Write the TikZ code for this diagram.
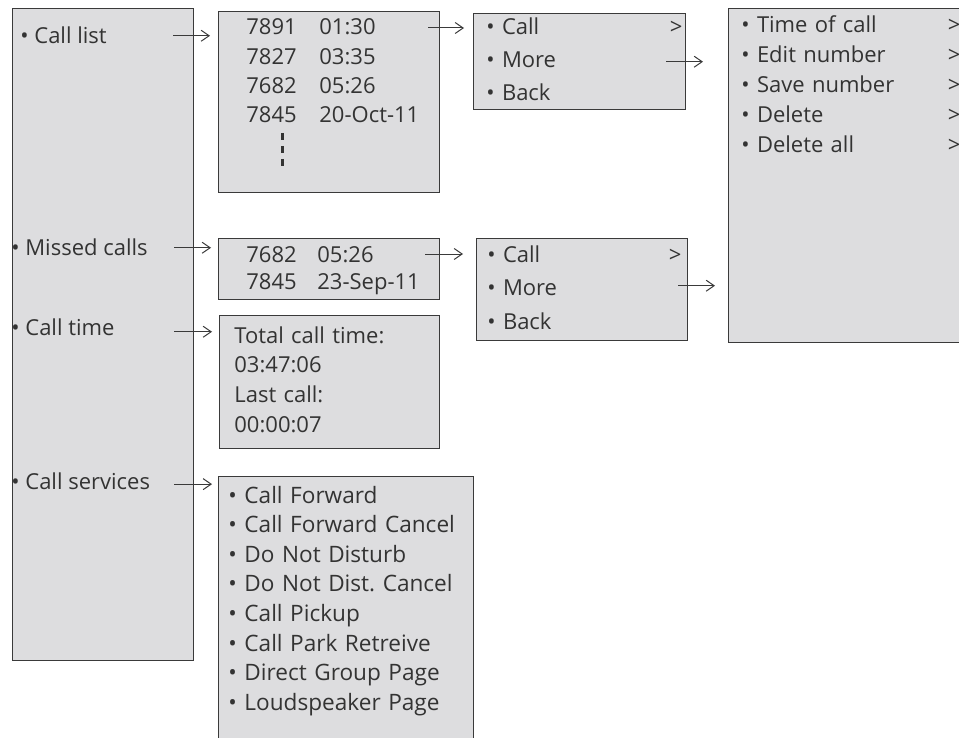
\documentclass[tikz,border=0pt]{standalone}
\usepackage{fontspec}
\setmainfont{Open Sans}
\frenchspacing
\usetikzlibrary{arrows.meta,positioning}
\definecolor{PanelGray}{RGB}{221,221,223}
\definecolor{EdgeGray}{HTML}{3A3A3A}
\definecolor{InkGray}{HTML}{333333}

\begin{document}
\begin{tikzpicture}[x=0.5pt,y=-0.5pt,
    panel/.style={draw=EdgeGray,fill=PanelGray,line width=0.7pt,anchor=north west,inner sep=0pt},
    item/.style={anchor=base west,inner sep=0pt,align=left,text=InkGray,font=\fontsize{11}{14.8}\selectfont},
    navarrow/.style={-{Straight Barb[length=4pt,width=5.5pt]},line width=0.5pt,color=EdgeGray}]
  \useasboundingbox (0,0) rectangle (959,738);
  \clip (0,0) rectangle (959,738);
  % panels
  \node[panel,minimum width=90.5pt,minimum height=326pt] (menu) at (12,8) {};
  \node[panel,minimum width=110.5pt,minimum height=90.5pt] (listbox) at (218,11) {};
  \node[panel,minimum width=110.5pt,minimum height=30.5pt] (missbox) at (218,238) {};
  \node[panel,minimum width=110pt,minimum height=66.5pt] (timebox) at (219,315) {};
  \node[panel,minimum width=127.5pt,minimum height=162pt] (servbox) at (218,476) {};
  \node[panel,minimum width=106pt,minimum height=48pt] (ctrlA) at (473,13) {};
  \node[panel,minimum width=105.5pt,minimum height=51pt] (ctrlB) at (476,238) {};
  \node[panel,minimum width=136pt,minimum height=167pt] (morebox) at (728,8) {};
  % main menu
  \node[item] (lcall) at (20,44) {• Call list};
  \node[item] (lmissed) at (11,256) {• Missed calls};
  \node[item] (ltime) at (11,335) {• Call time};
  \node[item] (lserv) at (11,489) {• Call services};
  % call list
  \node[item,text width=30pt,font=\fontsize{11}{14.65}\selectfont] (listnum) at (246,35) {7891\\7827\\7682\\7845};
  \node[item,text width=55pt,font=\fontsize{11}{14.65}\selectfont] (listtime) at (319,35) {01:30\\03:35\\05:26\\20-Oct-11};
  \draw[line width=1.5pt,color=InkGray,dash pattern=on 3.5pt off 3pt] (282,133) -- (282,166);
  % missed calls
  \node[item,text width=30pt,font=\fontsize{11}{13.5}\selectfont] (missnum) at (246,262) {7682\\7845};
  \node[item,text width=55pt,font=\fontsize{11}{13.5}\selectfont] (misstime) at (317,262) {05:26\\23-Sep-11};
  % call time
  \node[item,text width=100pt,font=\fontsize{11}{14.85}\selectfont] (timetxt) at (234,343)
    {Total call time:\\03:47:06\\Last call:\\00:00:07};
  % call services
  \node[item,text width=120pt,font=\fontsize{11.3}{14.8}\selectfont] (servtxt) at (228,503)
    {• Call Forward\\• Call Forward Cancel\\• Do Not Disturb\\• Do Not Dist. Cancel\\%
     • Call Pickup\\• Call Park Retreive\\• Direct Group Page\\• Loudspeaker Page};
  % call / more / back
  \node[item,text width=98pt,font=\fontsize{11}{16.5}\selectfont] (ctrlAtxt) at (486,35)
    {• Call\hfill>\\• More\\• Back};
  \node[item,text width=97pt,font=\fontsize{11}{16.75}\selectfont] (ctrlBtxt) at (487,262)
    {• Call\hfill>\\• More\\• Back};
  % more
  \node[item,text width=109.5pt,font=\fontsize{11}{14.9}\selectfont] (moretxt) at (741,33)
    {• Time of call\hfill>\\• Edit number\hfill>\\• Save number\hfill>\\• Delete\hfill>\\• Delete all\hfill>};
  % arrows
  \coordinate (listout) at ([xshift=-6pt,yshift=-8.5pt]listbox.north east);
  \coordinate (missout) at ([xshift=-7.5pt,yshift=-8pt]missbox.north east);
  \draw[navarrow] ([xshift=-10.5pt]menu.east |- lcall) -- ([xshift=-4pt]listbox.west |- lcall);
  \draw[navarrow] ([xshift=-10pt]menu.east |- lmissed) -- ([xshift=-3.5pt]missbox.west |- lmissed);
  \draw[navarrow] ([xshift=-10pt,yshift=-2.5pt]menu.east |- ltime) -- ([xshift=-3.5pt,yshift=-2.5pt]timebox.west |- ltime);
  \draw[navarrow] ([xshift=-10pt,yshift=-1.7pt]menu.east |- lserv) -- ([xshift=-3pt,yshift=-1.7pt]servbox.west |- lserv);
  \draw[navarrow] (listout) -- ([xshift=-4.5pt]ctrlA.west |- listout);
  \draw[navarrow] (missout) -- ([xshift=-6.5pt]ctrlB.west |- missout);
  \draw[navarrow] ([xshift=-10pt]ctrlA.east) -- ([xshift=-12.5pt]morebox.west |- ctrlA.east);
  \draw[navarrow] ([xshift=-5pt,yshift=2pt]ctrlB.east) -- ([xshift=-6.5pt,yshift=2pt]morebox.west |- ctrlB.east);
\end{tikzpicture}
\end{document}
